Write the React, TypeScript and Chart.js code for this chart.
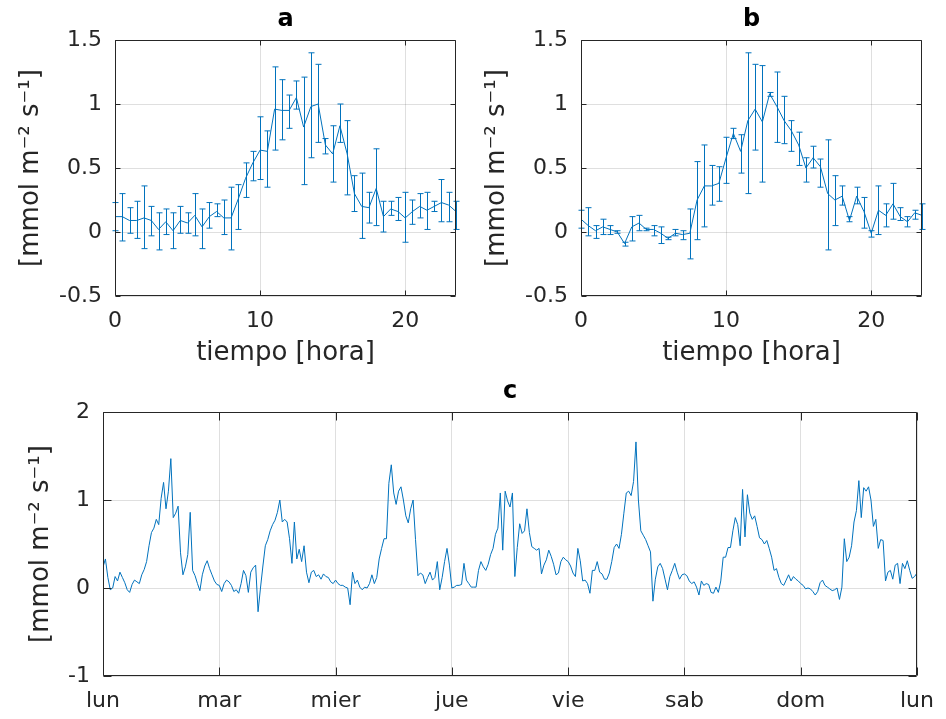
import React, { useEffect, useRef } from 'react';
import { Chart, registerables } from 'chart.js';

Chart.register(...registerables);

const BLUE = '#0072BD';
const AXIS = '#262626';
const GRID = 'rgba(38,38,38,0.15)';
const FONT = "'DejaVu Sans', 'Noto Sans', sans-serif";
const YLABEL = '[mmol m\u207B\u00B2 s\u207B\u00B9]';

// ---------- Panels a / b : half-hourly mean with error bars ----------
const hours = [0, 0.5, 1, 1.5, 2, 2.5, 3, 3.5, 4, 4.5, 5, 5.5, 6, 6.5, 7, 7.5, 8, 8.5, 9, 9.5, 10, 10.5, 11, 11.5,
  12, 12.5, 13, 13.5, 14, 14.5, 15, 15.5, 16, 16.5, 17, 17.5, 18, 18.5, 19, 19.5, 20, 20.5, 21, 21.5, 22, 22.5, 23, 23.5];
const hourTicks = [0, 10, 20];
const topYTicks = [-0.5, 0, 0.5, 1, 1.5];

const meanA = [0.12, 0.12, 0.09, 0.09, 0.11, 0.09, 0.02, 0.08, 0.01, 0.09, 0.07, 0.13, 0.04, 0.12, 0.16, 0.11, 0.11, 0.26, 0.42, 0.54, 0.64, 0.63, 0.96, 0.95,
  0.95, 1.05, 0.82, 0.98, 1.00, 0.68, 0.61, 0.83, 0.61, 0.30, 0.20, 0.19, 0.34, 0.12, 0.18, 0.16, 0.11, 0.16, 0.20, 0.17, 0.20, 0.23, 0.21, 0.16];
const upperA = [0.23, 0.30, 0.19, 0.24, 0.36, 0.20, 0.15, 0.18, 0.15, 0.20, 0.15, 0.30, 0.18, 0.23, 0.22, 0.25, 0.35, 0.37, 0.54, 0.63, 0.90, 0.79, 1.29, 1.19,
  1.07, 1.18, 1.21, 1.40, 1.31, 0.73, 0.83, 1.00, 0.87, 0.44, 0.46, 0.31, 0.65, 0.24, 0.24, 0.27, 0.31, 0.25, 0.30, 0.31, 0.24, 0.41, 0.31, 0.24];
const lowerA = [0.01, -0.07, -0.01, -0.05, -0.13, -0.03, -0.14, -0.02, -0.13, -0.01, -0.01, -0.03, -0.13, 0.03, 0.12, -0.02, -0.14, 0.02, 0.27, 0.40, 0.41, 0.35, 0.64, 0.72,
  0.81, 0.96, 0.37, 0.58, 0.70, 0.61, 0.39, 0.70, 0.29, 0.16, -0.05, 0.07, 0.05, 0.00, 0.13, 0.09, -0.08, 0.06, 0.11, 0.02, 0.16, 0.08, 0.08, 0.02];

const meanB = [0.10, 0.05, 0.01, 0.04, 0.02, 0.00, -0.09, 0.04, 0.07, 0.02, 0.02, -0.01, -0.05, -0.01, -0.02, -0.01, 0.25, 0.36, 0.36, 0.38, 0.58, 0.77, 0.63, 0.87,
  0.96, 0.86, 1.08, 0.98, 0.87, 0.79, 0.68, 0.50, 0.58, 0.51, 0.30, 0.25, 0.28, 0.09, 0.28, 0.16, -0.01, 0.17, 0.13, 0.22, 0.12, 0.08, 0.15, 0.13];
const upperB = [0.17, 0.19, 0.05, 0.10, 0.05, 0.01, -0.08, 0.12, 0.13, 0.03, 0.05, 0.04, -0.04, 0.02, 0.01, 0.18, 0.55, 0.68, 0.52, 0.51, 0.74, 0.81, 0.76, 1.40,
  1.31, 1.30, 1.09, 1.25, 1.06, 0.87, 0.78, 0.58, 0.67, 0.57, 0.72, 0.44, 0.36, 0.12, 0.35, 0.27, 0.01, 0.36, 0.22, 0.38, 0.19, 0.12, 0.17, 0.22];
const lowerB = [0.03, -0.03, -0.05, -0.02, -0.02, -0.01, -0.11, -0.07, 0.01, 0.01, -0.03, -0.09, -0.06, -0.03, -0.06, -0.21, -0.06, 0.04, 0.21, 0.24, 0.38, 0.73, 0.46, 0.30,
  0.64, 0.39, 1.06, 0.70, 0.69, 0.63, 0.52, 0.39, 0.50, 0.35, -0.14, 0.05, 0.21, 0.08, 0.22, 0.03, -0.04, -0.02, 0.04, 0.10, 0.09, 0.04, 0.10, 0.02];

// ---------- Panel c : one week, half-hourly ----------
const dayLabels = ['lun', 'mar', 'mier', 'jue', 'vie', 'sab', 'dom', 'lun'];
const dayTicks = [0, 1, 2, 3, 4, 5, 6, 7];
const weekYTicks = [-1, 0, 1, 2];
const stepsPerDay = 48;

const lunVals = [0.24, 0.33, 0.12, -0.02, 0.00, 0.13, 0.08, 0.18, 0.12, 0.06, -0.02, -0.05, 0.04, 0.09, 0.07, 0.05, 0.15, 0.21, 0.30, 0.48, 0.63, 0.68, 0.78, 0.72,
  1.02, 1.20, 0.90, 1.10, 1.47, 0.80, 0.85, 0.93, 0.40, 0.15, 0.24, 0.38, 0.86, 0.20, 0.14, 0.05, -0.03, 0.15, 0.25, 0.31, 0.22, 0.15, 0.08, 0.04];
const marVals = [0.03, -0.04, 0.05, 0.09, 0.07, 0.03, -0.04, -0.02, -0.06, 0.05, 0.20, 0.14, -0.05, 0.18, 0.23, 0.26, -0.27, 0.00, 0.25, 0.48, 0.55, 0.65, 0.72, 0.77,
  0.86, 1.00, 0.75, 0.78, 0.75, 0.56, 0.28, 0.75, 0.33, 0.44, 0.30, 0.48, 0.18, 0.06, 0.18, 0.20, 0.13, 0.15, 0.10, 0.16, 0.13, 0.12, 0.07, 0.05];
const mierVals = [0.09, 0.05, 0.03, 0.03, 0.01, 0.00, -0.19, 0.18, 0.05, 0.09, 0.01, -0.02, 0.01, 0.00, 0.05, 0.15, 0.05, 0.12, 0.33, 0.45, 0.56, 0.56, 1.19, 1.40,
  1.08, 0.95, 1.10, 1.15, 1.00, 0.82, 0.74, 0.90, 1.00, 0.55, 0.14, 0.17, 0.15, 0.05, 0.12, 0.18, 0.09, 0.12, 0.30, -0.02, 0.12, 0.30, 0.45, 0.26];
const jueVals = [0.00, 0.01, 0.03, 0.03, 0.04, 0.28, 0.09, 0.05, 0.01, 0.01, 0.01, 0.20, 0.30, 0.24, 0.20, 0.27, 0.38, 0.45, 0.61, 0.68, 1.08, 0.43, 1.10, 0.99,
  0.92, 1.08, 0.13, 0.46, 0.73, 0.62, 0.65, 0.90, 0.63, 0.47, 0.45, 0.43, 0.45, 0.16, 0.26, 0.32, 0.43, 0.36, 0.27, 0.15, 0.17, 0.30, 0.35, 0.32];
const vieVals = [0.30, 0.25, 0.17, 0.13, 0.45, 0.31, 0.08, 0.09, 0.05, -0.06, 0.20, 0.20, 0.30, 0.18, 0.16, 0.10, 0.10, 0.17, 0.30, 0.46, 0.50, 0.45, 0.61, 0.85,
  1.08, 1.10, 1.05, 1.21, 1.66, 1.00, 0.65, 0.60, 0.55, 0.48, 0.41, -0.15, 0.10, 0.24, 0.28, 0.22, 0.10, -0.02, 0.13, 0.20, 0.28, 0.18, 0.10, 0.15];
const sabVals = [0.16, 0.14, 0.08, 0.05, 0.07, 0.01, -0.08, 0.08, 0.03, 0.05, 0.04, -0.05, -0.06, 0.01, -0.05, 0.08, 0.35, 0.35, 0.46, 0.46, 0.65, 0.80, 0.72, 0.48,
  1.12, 0.58, 1.06, 0.85, 0.78, 0.82, 0.70, 0.57, 0.55, 0.50, 0.54, 0.45, 0.35, 0.20, 0.22, 0.12, 0.05, 0.03, 0.09, 0.15, 0.08, 0.13, 0.10, 0.08];
// last entry is the closing sample at midnight (following lun 00:00)
const domVals = [0.05, 0.03, -0.01, 0.00, -0.01, -0.04, -0.08, -0.04, 0.06, 0.09, 0.03, 0.01, -0.01, -0.03, -0.02, 0.00, -0.13, 0.01, 0.56, 0.30, 0.35, 0.48, 0.75, 0.88,
  1.22, 0.80, 1.14, 1.10, 1.15, 1.00, 0.70, 0.78, 0.45, 0.55, 0.54, 0.08, 0.18, 0.20, 0.10, 0.26, 0.28, 0.05, 0.28, 0.22, 0.31, 0.20, 0.11, 0.13, 0.17];

const weekDays = [lunVals, marVals, mierVals, jueVals, vieVals, sabVals, domVals];

// ---------- plugins ----------
const errorBarPlugin = {
  id: 'errorBars',
  afterDatasetsDraw(chart: any, _args: any, opts: any) {
    if (!opts || !opts.upper) return;
    const { ctx } = chart;
    const xs = chart.scales.x;
    const ys = chart.scales.y;
    const cap = 3;
    ctx.save();
    ctx.strokeStyle = BLUE;
    ctx.lineWidth = 1;
    ctx.beginPath();
    opts.xs.forEach((xv: number, i: number) => {
      const px = Math.round(xs.getPixelForValue(xv)) + 0.5;
      const pt = ys.getPixelForValue(opts.upper[i]);
      const pb = ys.getPixelForValue(opts.lower[i]);
      ctx.moveTo(px, pt);
      ctx.lineTo(px, pb);
      ctx.moveTo(px - cap, pt);
      ctx.lineTo(px + cap, pt);
      ctx.moveTo(px - cap, pb);
      ctx.lineTo(px + cap, pb);
    });
    ctx.stroke();
    ctx.restore();
  },
};

const framePlugin = {
  id: 'frame',
  afterDraw(chart: any, _args: any, opts: any) {
    const { ctx, chartArea: a } = chart;
    const L = (opts && opts.tickLen) || 5;
    const l = Math.round(a.left) + 0.5;
    const r = Math.round(a.right) - 0.5;
    const t = Math.round(a.top) + 0.5;
    const b = Math.round(a.bottom) - 0.5;
    ctx.save();
    ctx.strokeStyle = AXIS;
    ctx.lineWidth = 1;
    ctx.beginPath();
    ctx.rect(l, t, r - l, b - t);
    chart.scales.x.ticks.forEach((tk: any) => {
      const px = Math.round(chart.scales.x.getPixelForValue(tk.value)) + 0.5;
      ctx.moveTo(px, b);
      ctx.lineTo(px, b - L);
      ctx.moveTo(px, t);
      ctx.lineTo(px, t + L);
    });
    chart.scales.y.ticks.forEach((tk: any) => {
      const py = Math.round(chart.scales.y.getPixelForValue(tk.value)) + 0.5;
      ctx.moveTo(l, py);
      ctx.lineTo(l + L, py);
      ctx.moveTo(r, py);
      ctx.lineTo(r - L, py);
    });
    ctx.stroke();
    ctx.restore();
  },
};

const W = 946;
const H = 719;

function makeTicks(values: number[]) {
  return (s: any) => {
    s.ticks = values.map((v) => ({ value: v }));
  };
}

function buildConfig(p: any) {
  return {
    type: 'line',
    data: {
      datasets: [
        {
          data: p.points,
          borderColor: BLUE,
          borderWidth: 1,
          pointRadius: 0,
          tension: 0,
          fill: false,
        },
      ],
    },
    options: {
      animation: false,
      responsive: false,
      devicePixelRatio: 1,
      events: [],
      layout: { padding: p.padding },
      plugins: {
        legend: { display: false },
        tooltip: { enabled: false },
        title: {
          display: true,
          text: p.title,
          fullSize: false,
          color: '#000',
          font: { family: FONT, size: 24, weight: 'bold', lineHeight: 1.2 },
          padding: { top: 0, bottom: 6 },
        },
        errorBars: p.errorBars || {},
        frame: { tickLen: p.tickLen },
      },
      scales: {
        x: {
          type: 'linear',
          min: p.xMin,
          max: p.xMax,
          afterBuildTicks: makeTicks(p.xTicks),
          afterFit: (s: any) => {
            s.height = p.xHeight;
          },
          grid: { color: GRID, drawTicks: false, lineWidth: 1 },
          border: { display: false },
          ticks: {
            padding: 12,
            maxRotation: 0,
            autoSkip: false,
            color: AXIS,
            font: { family: FONT, size: 22 },
            callback: p.xCallback || ((v: any) => String(v)),
          },
          title: p.xTitle
            ? {
                display: true,
                text: p.xTitle,
                color: AXIS,
                font: { family: FONT, size: 26, lineHeight: 1.2 },
                padding: { top: 0, bottom: 6 },
              }
            : { display: false },
        },
        y: {
          type: 'linear',
          min: p.yMin,
          max: p.yMax,
          afterBuildTicks: makeTicks(p.yTicks),
          afterFit: (s: any) => {
            s.width = p.yWidth;
          },
          grid: { color: GRID, drawTicks: false, lineWidth: 1 },
          border: { display: false },
          ticks: {
            padding: 13,
            autoSkip: false,
            color: AXIS,
            font: { family: FONT, size: 22 },
            callback: (v: any) => String(v),
          },
          title: {
            display: true,
            text: YLABEL,
            color: AXIS,
            font: { family: FONT, size: 26, lineHeight: 1.2 },
            padding: { top: p.yTitlePad, bottom: 0 },
          },
        },
      },
    },
    plugins: [errorBarPlugin, framePlugin],
  };
}

function ChartCanvas({ cfg }: { cfg: any }) {
  const ref = useRef<HTMLCanvasElement | null>(null);
  useEffect(() => {
    if (!ref.current) return;
    const chart = new Chart(ref.current, buildConfig(cfg) as any);
    return () => chart.destroy();
  }, []);
  return (
    <canvas
      ref={ref}
      width={W}
      height={H}
      style={{ position: 'absolute', left: 0, top: 0, width: W, height: H }}
    />
  );
}

export default function App() {
  const pointsA = hours.map((h, i) => ({ x: h, y: meanA[i] }));
  const pointsB = hours.map((h, i) => ({ x: h, y: meanB[i] }));
  const pointsC: { x: number; y: number }[] = [];
  weekDays.forEach((vals, d) => {
    vals.forEach((v, i) => pointsC.push({ x: d + i / stepsPerDay, y: v }));
  });

  const titleH = 24 * 1.2 + 6;

  const cfgA = {
    title: 'a',
    points: pointsA,
    errorBars: { xs: hours, upper: upperA, lower: lowerA },
    padding: { left: 0, right: W - 456, top: 40 - titleH, bottom: H - 296 - 79 },
    xMin: 0, xMax: 23.5, xTicks: hourTicks, xHeight: 79, xTitle: 'tiempo [hora]',
    yMin: -0.5, yMax: 1.5, yTicks: topYTicks, yWidth: 115, yTitlePad: 16,
    tickLen: 5,
  };
  const cfgB = {
    title: 'b',
    points: pointsB,
    errorBars: { xs: hours, upper: upperB, lower: lowerB },
    padding: { left: 581 - 115, right: W - 922, top: 40 - titleH, bottom: H - 296 - 79 },
    xMin: 0, xMax: 23.5, xTicks: hourTicks, xHeight: 79, xTitle: 'tiempo [hora]',
    yMin: -0.5, yMax: 1.5, yTicks: topYTicks, yWidth: 115, yTitlePad: 16,
    tickLen: 5,
  };
  const cfgC = {
    title: 'c',
    points: pointsC,
    padding: { left: 0, right: W - 923, top: 412 - titleH, bottom: 0 },
    xMin: 0, xMax: 7, xTicks: dayTicks, xHeight: H - 676, xTitle: null,
    xCallback: (_v: any, idx: number) => dayLabels[idx],
    yMin: -1, yMax: 2, yTicks: weekYTicks, yWidth: 103, yTitlePad: 26,
    tickLen: 8,
  };

  return (
    <div style={{ position: 'absolute', left: 0, top: 0, width: W, height: H, background: '#fff' }}>
      <ChartCanvas cfg={cfgA} />
      <ChartCanvas cfg={cfgB} />
      <ChartCanvas cfg={cfgC} />
    </div>
  );
}
